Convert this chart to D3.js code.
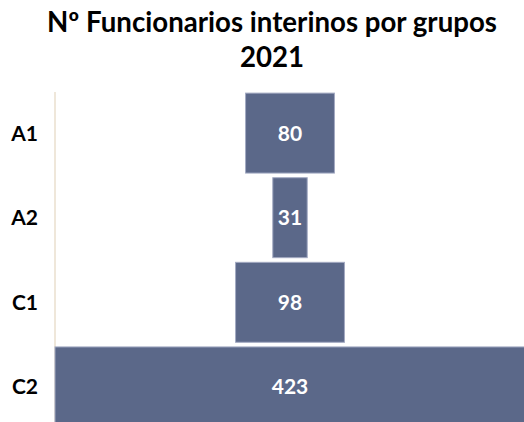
<!DOCTYPE html>
<html>
<head>
<meta charset="utf-8">
<script src="https://cdn.jsdelivr.net/npm/d3@7"></script>
<style>
  html, body { margin: 0; padding: 0; background: #fff; }
  svg { display: block; font-family: Lato, 'Open Sans', sans-serif; }
</style>
</head>
<body>
<script>
const categories = ['A1', 'A2', 'C1', 'C2']
const values = [80, 31, 98, 423]
const titleLines = ['Nº Funcionarios interinos por grupos', '2021']

const width = 524
const height = 422
const centerX = 290

const svg = d3.select('body').append('svg')
  .attr('width', width)
  .attr('height', height)

// title, fitted to the reference width
const title = svg.append('g').attr('font-weight', 700).attr('fill', '#000')
title.selectAll('text')
  .data(titleLines)
  .enter()
  .append('text')
  .attr('x', 272)
  .attr('y', (d, i) => 32 + i * 35)
  .attr('text-anchor', 'middle')
  .attr('font-size', 24)
  .text(d => d)

const first = title.select('text').node()
const fit = 24 * 450 / first.getComputedTextLength()
title.selectAll('text').attr('font-size', fit)

const y = d3.scaleBand()
  .domain(categories)
  .range([91, 429])
  .paddingInner(0.055)
  .paddingOuter(0.025)

const x = d3.scaleLinear()
  .domain([0, d3.max(values)])
  .range([0, 470])

const data = categories.map((c, i) => ({ cat: c, value: values[i] }))

// axis line
svg.append('line')
  .attr('x1', 55).attr('x2', 55)
  .attr('y1', 92).attr('y2', height)
  .attr('stroke', '#efe7da')
  .attr('stroke-width', 2)

svg.selectAll('rect.bar')
  .data(data)
  .enter()
  .append('rect')
  .attr('class', 'bar')
  .attr('x', d => centerX - x(d.value) / 2)
  .attr('y', d => y(d.cat))
  .attr('width', d => x(d.value))
  .attr('height', y.bandwidth())
  .attr('fill', '#5b6889')
  .attr('stroke', '#a3aac2')
  .attr('stroke-width', 1)

svg.selectAll('text.value')
  .data(data)
  .enter()
  .append('text')
  .attr('class', 'value')
  .attr('x', centerX)
  .attr('y', d => y(d.cat) + y.bandwidth() / 2)
  .attr('dy', '0.36em')
  .attr('text-anchor', 'middle')
  .attr('font-size', 21)
  .attr('font-weight', 700)
  .attr('fill', '#fff')
  .text(d => d.value)

svg.selectAll('text.cat')
  .data(data)
  .enter()
  .append('text')
  .attr('class', 'cat')
  .attr('x', 38)
  .attr('y', d => y(d.cat) + y.bandwidth() / 2)
  .attr('dy', '0.36em')
  .attr('text-anchor', 'end')
  .attr('font-size', 21)
  .attr('font-weight', 700)
  .attr('fill', '#000')
  .text(d => d.cat)
</script>
</body>
</html>
